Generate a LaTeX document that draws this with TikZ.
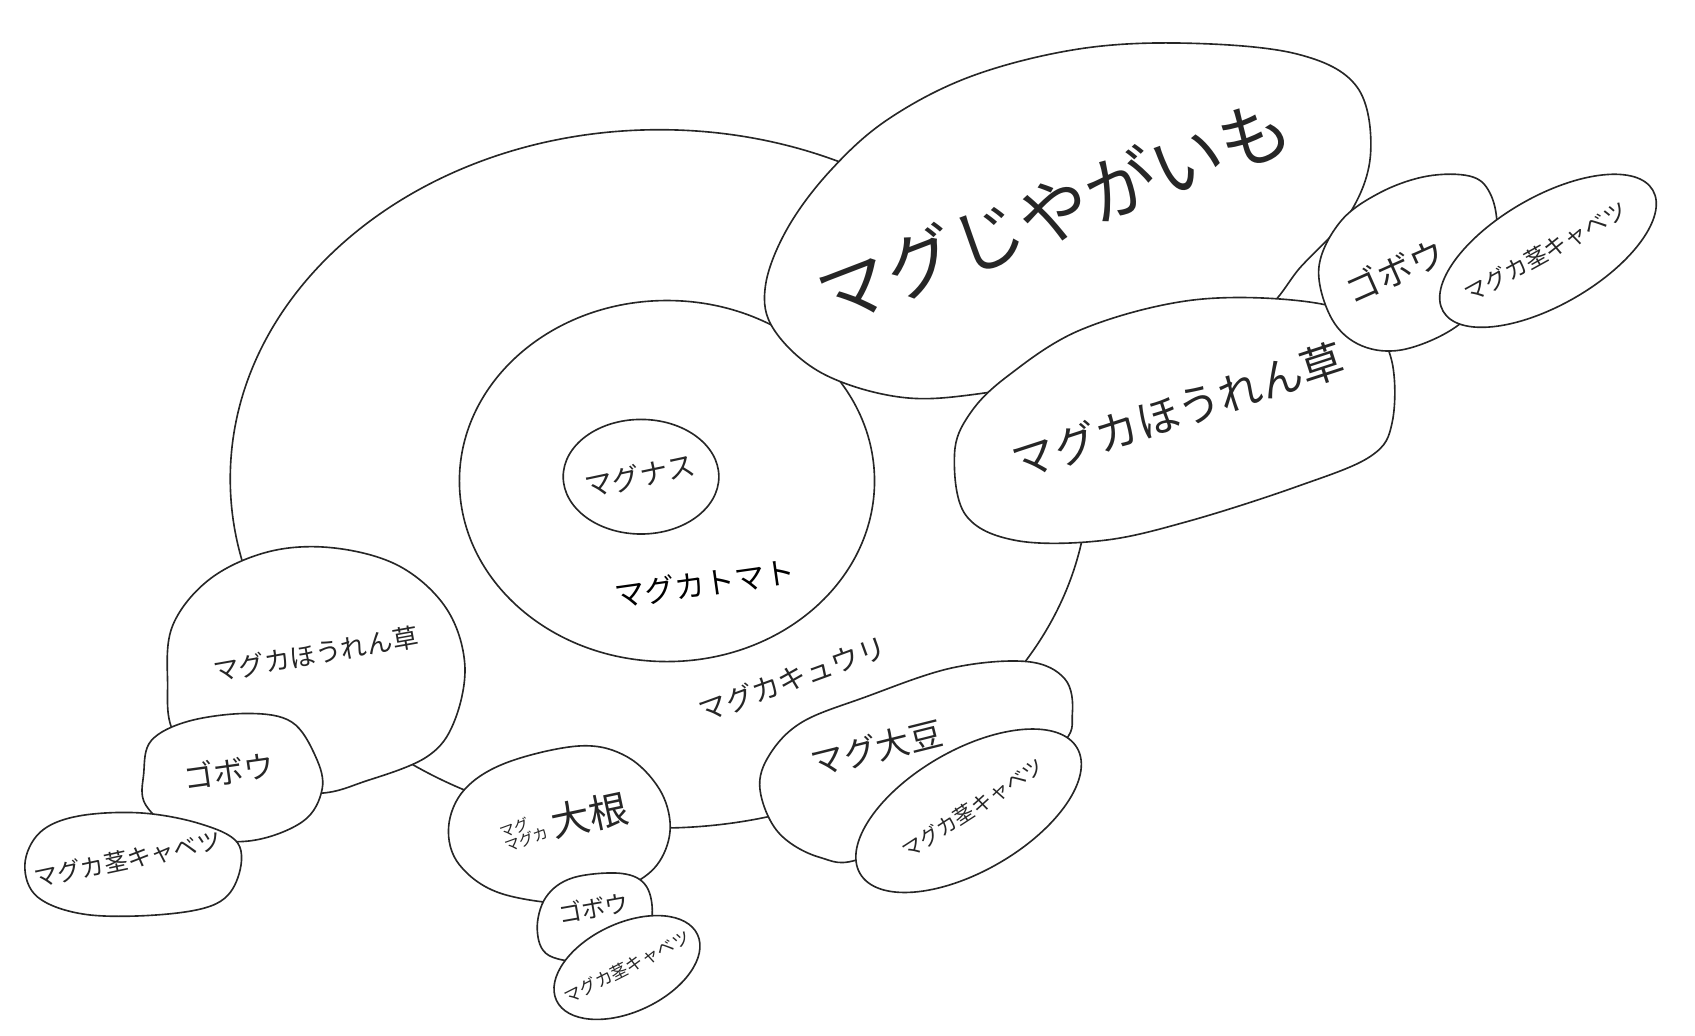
\documentclass[tikz,border=0pt]{standalone}
\usepackage{fontspec}
\newfontfamily\jp{Noto Sans CJK JP}
\tikzset{
  blob/.style={draw=black!85, line width=0.75pt, fill=white, line join=round},
  lbl/.style={font=\jp\fontsize{#1}{#1}\selectfont, inner sep=0pt, text=black!85},
}
\begin{document}
\begin{tikzpicture}[x=0.5pt,y=-0.5pt]
\useasboundingbox (0,0) rectangle (1568,958);
% outer (kyuri)
\draw[blob] (610,443) ellipse [x radius=397, y radius=323];
% tomato
\draw[blob] (617,445) ellipse [x radius=192, y radius=167];
% nasu
\draw[blob] (593,441) ellipse [x radius=72, y radius=53];
% jagaimo
\draw[blob] plot[smooth cycle, tension=0.6] coordinates {(708,265) (728,212) (768,158) (822,110) (900,70) (1000,45) (1100,40) (1200,50) (1255,80) (1268,140) (1250,195) (1205,245) (1150,300) (1000,345) (900,365) (830,367) (760,345) (716,305)};
% right hourensou
\draw[blob] plot[smooth cycle, tension=0.6] coordinates {(883,420) (897,383) (932,348) (1000,305) (1100,278) (1200,278) (1262,295) (1287,332) (1288,390) (1268,422) (1200,450) (1100,482) (1020,500) (940,500) (893,476)};
% right gobou
\draw[blob] plot[smooth cycle, tension=0.6] coordinates {(1220,248) (1240,205) (1277,178) (1320,163) (1360,163) (1378,178) (1385,210) (1380,260) (1350,300) (1300,323) (1260,320) (1232,295)};
% right cabbage
\draw[blob, rotate around={30:(1432,232)}] (1432,232) ellipse [x radius=112, y radius=50];
% left hourensou
\draw[blob] plot[smooth cycle, tension=0.6] coordinates {(155,630) (160,578) (195,535) (250,510) (310,507) (370,524) (413,563) (430,615) (420,668) (395,700) (340,722) (290,734) (210,722) (162,680)};
% left gobou
\draw[blob] plot[smooth cycle, tension=0.6] coordinates {(133,715) (140,685) (175,667) (230,660) (270,668) (292,700) (298,730) (280,760) (230,778) (170,772) (135,745)};
% left cabbage
\draw[blob] plot[smooth cycle, tension=0.6] coordinates {(23,800) (37,770) (72,755) (130,752) (185,762) (220,780) (220,812) (200,836) (150,846) (80,846) (35,830)};
% daikon
\draw[blob] plot[smooth cycle, tension=0.6] coordinates {(415,765) (430,730) (470,705) (537,690) (580,700) (610,730) (620,765) (610,797) (585,818) (540,836) (465,827) (425,800)};
% small gobou
\draw[blob] plot[smooth cycle, tension=0.6] coordinates {(497,860) (505,830) (530,812) (575,808) (598,820) (603,850) (590,880) (550,890) (508,884)};
% small cabbage
\draw[blob, rotate around={25:(580,895)}] (580,895) ellipse [x radius=72, y radius=41];
% daizu
\draw[blob] plot[smooth cycle, tension=0.6] coordinates {(703,730) (712,698) (742,668) (800,645) (880,618) (950,612) (985,628) (992,660) (980,690) (900,740) (800,793) (758,793) (720,770)};
% daizu cabbage
\draw[blob, rotate around={30:(896,750)}] (896,750) ellipse [x radius=116, y radius=56];

% labels
\node[lbl=33, rotate=21] (tjaga) at (975,195) {マグじやがいも};
\node[lbl=20, rotate=18] (thou1) at (1090,380) {マグカほうれん草};
\node[lbl=16, rotate=24] (tgob1) at (1290,250) {ゴボウ};
\node[lbl=10.5, rotate=29] (tcab1) at (1430,233) {マグカ茎キャベツ};
\node[lbl=13, rotate=12] (tnasu) at (592,440) {マグナス};
\node[lbl=14, rotate=8, text=black] (ttoma) at (652,540) {マグカトマト};
\node[lbl=13, rotate=20] (tkyuri) at (733,628) {マグカキュウリ};
\node[lbl=12, rotate=10] (thou2) at (292,605) {マグカほうれん草};
\node[lbl=14, rotate=8] (tgob2) at (212,713) {ゴボウ};
\node[lbl=11, rotate=12] (tcab2) at (118,795) {マグカ茎キャベツ};
\node[lbl=7, rotate=20, align=left] (tdaik1) at (485,770) {マグ\\マグカ};
\node[lbl=18, rotate=12] (tdaik2) at (545,754) {大根};
\node[lbl=11, rotate=10] (tgob3) at (549,840) {ゴボウ};
\node[lbl=8, rotate=27] (tcab3) at (580,895) {マグカ茎キャベツ};
\node[lbl=15.5, rotate=14] (tdaizu) at (811,692) {マグ大豆};
\node[lbl=9.5, rotate=33] (tcab4) at (900,748) {マグカ茎キャベツ};
\end{tikzpicture}
\end{document}
